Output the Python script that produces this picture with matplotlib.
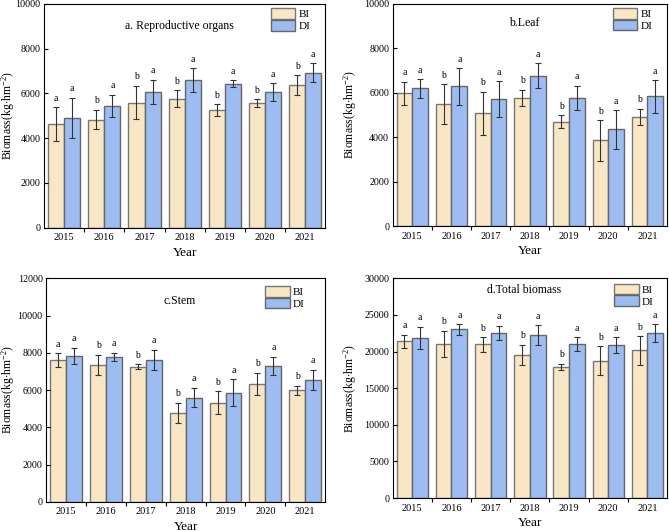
import matplotlib
matplotlib.use("Agg")
import matplotlib.pyplot as plt
import numpy as np

plt.rcParams['font.family'] = ['Liberation Serif', 'DejaVu Serif']
plt.rcParams['mathtext.fontset'] = 'custom'
plt.rcParams['mathtext.rm'] = 'Liberation Serif'
plt.rcParams['mathtext.it'] = 'Liberation Serif:italic'

years = ["2015", "2016", "2017", "2018", "2019", "2020", "2021"]

# a. Reproductive organs
rep_bi = [4620, 4830, 5590, 5760, 5260, 5570, 6370]
rep_bi_err = [750, 430, 750, 380, 250, 170, 430]
rep_di = [4900, 5440, 6060, 6590, 6430, 6070, 6920]
rep_di_err = [900, 500, 550, 520, 160, 390, 420]

# b. Leaf
leaf_bi = [5980, 5480, 5080, 5780, 4700, 3860, 4930]
leaf_bi_err = [520, 900, 960, 360, 290, 910, 360]
leaf_di = [6190, 6280, 5720, 6770, 5770, 4350, 5830]
leaf_di_err = [420, 810, 800, 560, 550, 860, 730]

# c. Stem
stem_bi = [7620, 7360, 7250, 4790, 5320, 6340, 5980]
stem_bi_err = [360, 540, 130, 540, 610, 590, 250]
stem_di = [7820, 7790, 7610, 5590, 5860, 7300, 6550]
stem_di_err = [450, 210, 550, 520, 710, 490, 540]

# d. Total biomass
tot_bi = [21390, 21070, 20980, 19570, 17940, 18760, 20160]
tot_bi_err = [900, 1770, 1000, 1360, 410, 1950, 1950]
tot_di = [21890, 23020, 22520, 22250, 21020, 20890, 22520]
tot_di_err = [1500, 720, 1000, 1360, 950, 1050, 1180]

bi_letters = ["a", "b", "b", "b", "b", "b", "b"]
di_letters = ["a", "a", "a", "a", "a", "a", "a"]

c_bi = "#F8E6C4"
c_di = "#9DBDF2"

fig = plt.figure(figsize=(6.69, 5.31), dpi=100)

# rect, title, data..., ymax, step, title y, legend anchor, ylabel x
panels = [
    ([0.066, 0.571, 0.420, 0.422], "a. Reproductive organs", rep_bi, rep_bi_err, rep_di, rep_di_err,
     10000, 2000, 0.90, (0.955, 0.99), -0.098),
    ([0.587, 0.574, 0.410, 0.419], "b.Leaf", leaf_bi, leaf_bi_err, leaf_di, leaf_di_err,
     10000, 2000, 0.915, (0.955, 0.99), -0.122),
    ([0.069, 0.055, 0.417, 0.421], "c.Stem", stem_bi, stem_bi_err, stem_di, stem_di_err,
     12000, 2000, 0.90, (0.935, 0.975), -0.106),
    ([0.587, 0.062, 0.410, 0.414], "d.Total biomass", tot_bi, tot_bi_err, tot_di, tot_di_err,
     30000, 5000, 0.945, (0.96, 0.985), -0.122),
]

x = np.arange(len(years))
w = 0.4
ekw = dict(ecolor="#333333", elinewidth=0.8, capsize=2.5, capthick=0.8)

for rect, title, bi, bi_e, di, di_e, ymax, step, ty, lanchor, ylx in panels:
    ax = fig.add_axes(rect)
    ax.bar(x - w / 2, bi, w, color=c_bi, edgecolor="#777777", linewidth=1.0, label="BI",
           yerr=bi_e, error_kw=ekw)
    ax.bar(x + w / 2, di, w, color=c_di, edgecolor="#666666", linewidth=1.0, label="DI",
           yerr=di_e, error_kw=ekw)
    off = ymax * 0.02
    for i in range(len(years)):
        ax.text(x[i] - w / 2, bi[i] + bi_e[i] + off, bi_letters[i], ha="center", va="bottom", fontsize=7)
        ax.text(x[i] + w / 2, di[i] + di_e[i] + off, di_letters[i], ha="center", va="bottom", fontsize=7)
    ax.set_xlim(-0.5, 6.5)
    ax.set_ylim(0, ymax)
    ax.set_yticks(np.arange(0, ymax + 1, step))
    ax.set_xticks(x)
    ax.set_xticklabels(years)
    ax.set_xticks(np.arange(0.5, 6, 1), minor=True)
    ax.tick_params(axis="x", which="major", length=0, labelsize=7.5, pad=4)
    ax.tick_params(axis="x", which="minor", direction="out", length=3, width=0.8)
    ax.tick_params(axis="y", direction="in", length=3, width=0.8, labelsize=7.2, pad=2.5)
    for s in ax.spines.values():
        s.set_linewidth(0.8)
    ax.set_xlabel("Year", fontsize=9.5, labelpad=3)
    ax.set_ylabel(r"Biomass(kg$\cdot$hm$^{-2}$)", fontsize=8.5)
    ax.yaxis.set_label_coords(ylx, 0.5)
    ax.text(0.48, ty, title, transform=ax.transAxes, ha="center", va="center", fontsize=8.5)
    ax.legend(loc="upper right", bbox_to_anchor=lanchor, frameon=False, fontsize=8,
              handlelength=2.2, handleheight=1.1, labelspacing=0.05, handletextpad=0.3,
              borderaxespad=0.0, borderpad=0.2)

fig.savefig("out.png", dpi=100)
